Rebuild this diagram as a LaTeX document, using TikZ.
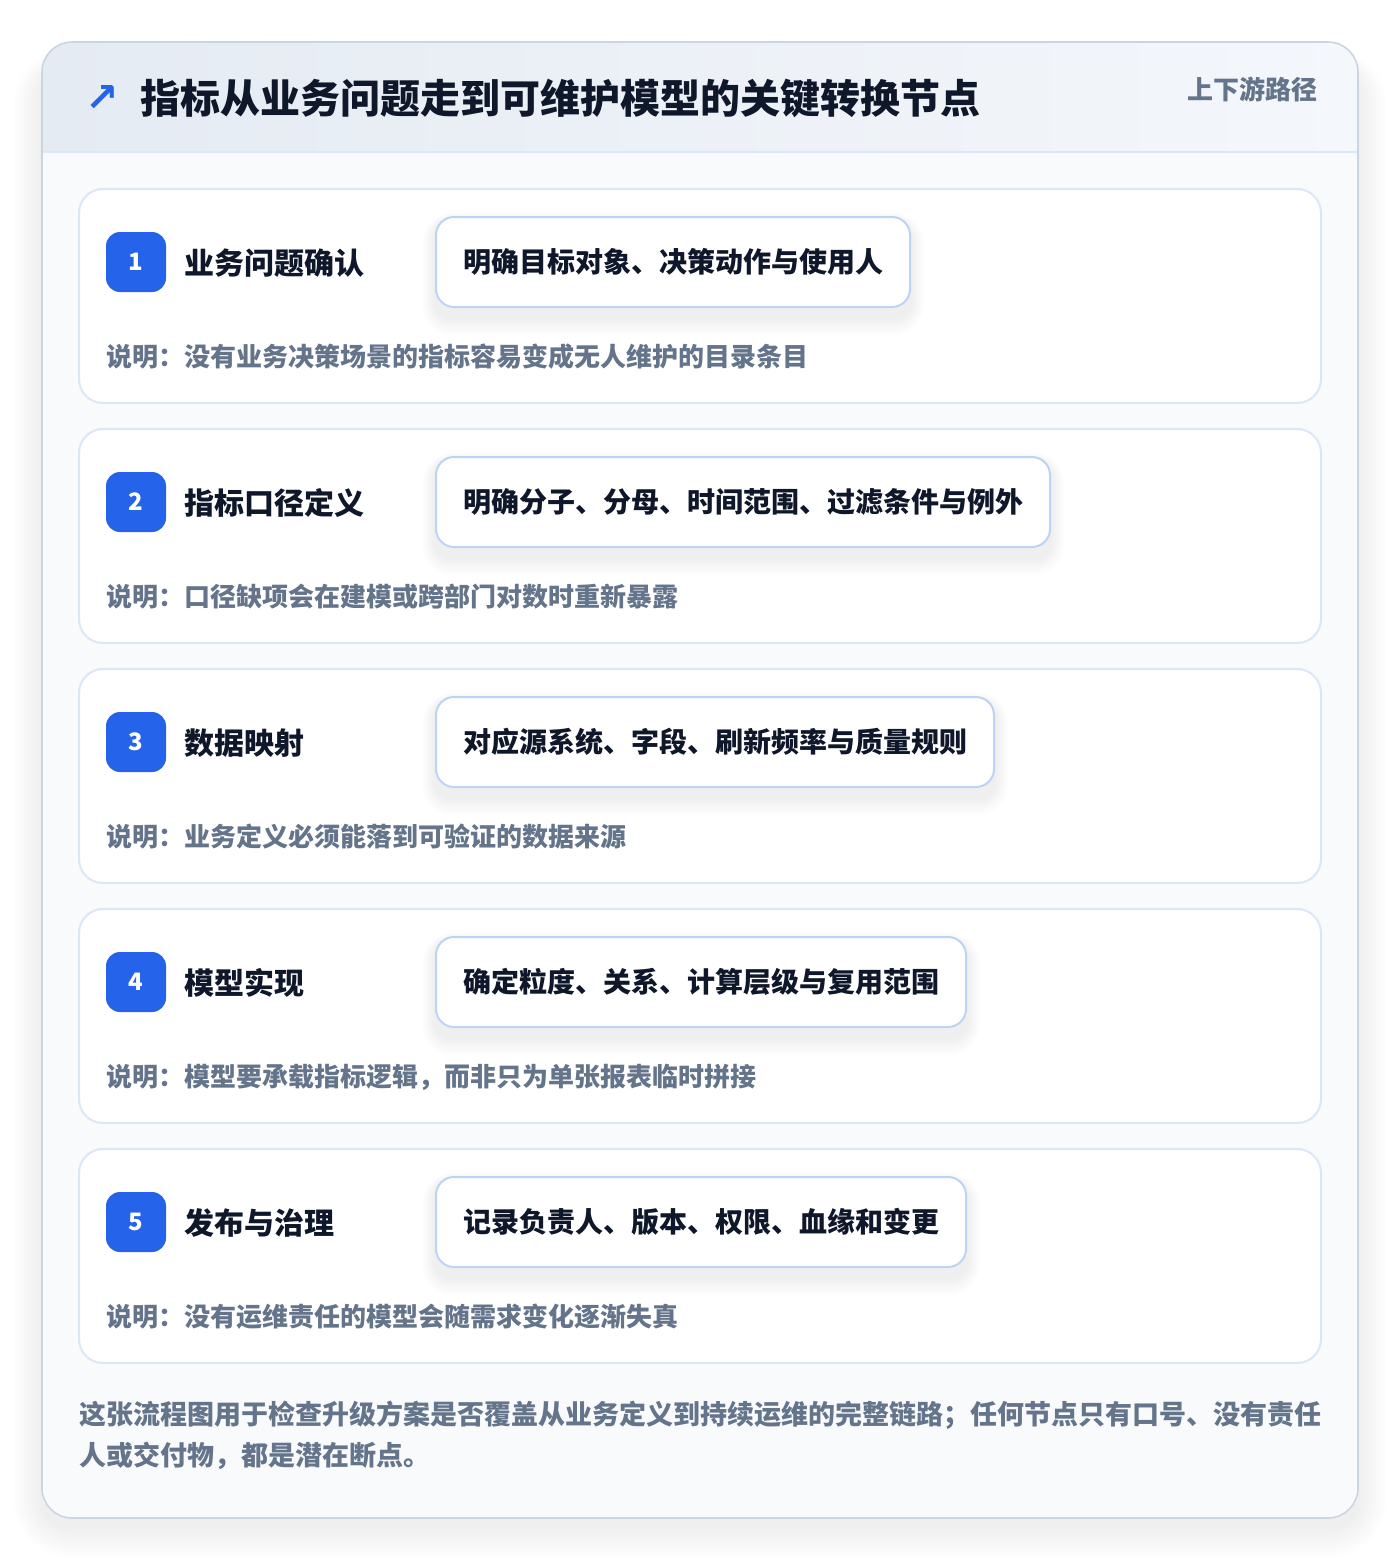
\documentclass[tikz,border=0pt]{standalone}
\usepackage{fontspec}
\setmainfont{Noto Sans CJK SC}
\newfontfamily\dejavu{DejaVu Sans}
\definecolor{inkdark}{HTML}{0F172A}
\definecolor{inkgray}{HTML}{64748B}
\definecolor{accent}{HTML}{2563EB}
\definecolor{cardline}{HTML}{DBE7F6}
\definecolor{pillline}{HTML}{BCD4F4}
\definecolor{outerline}{HTML}{CBD5E1}
\definecolor{hdrL}{HTML}{E5EBF3}
\definecolor{hdrR}{HTML}{F4F7FB}
\definecolor{bodybg}{HTML}{F9FAFC}
\definecolor{hdrsep}{HTML}{DCE7F5}
\pgfdeclarelayer{backdrop}
\pgfdeclarelayer{shadelayer}
\pgfsetlayers{backdrop,shadelayer,main}
\begin{document}
\begin{tikzpicture}[x=0.5pt,y=-0.5pt,
  cardbox/.style={draw=cardline, line width=1pt, fill=white, rounded corners=12pt,
    minimum width=621pt, minimum height=107pt, inner sep=0pt},
  badgebox/.style={fill=accent, text=white, rounded corners=7pt, minimum size=30pt,
    inner sep=0pt, font=\bfseries\fontsize{12}{14}\selectfont},
  labtext/.style={anchor=west, inner sep=0pt, text=inkdark, font=\bfseries\fontsize{15}{18}\selectfont},
  pillbox/.style={anchor=west, draw=pillline, line width=1pt, fill=white, rounded corners=9pt,
    minimum height=45pt, inner xsep=13.5pt, inner ysep=0pt, text=inkdark,
    font=\bfseries\fontsize{14}{17}\selectfont},
  notetext/.style={anchor=west, inner sep=0pt, text=inkgray, font=\bfseries\fontsize{13}{16}\selectfont},
  foottext/.style={anchor=west, inner sep=0pt, text=inkgray, font=\bfseries\fontsize{13.5}{17}\selectfont}
]
\useasboundingbox (0,0) rectangle (1400,1560);
\begin{pgfonlayer}{backdrop}
\fill[white] (0,0) rectangle (1400,1560);
% soft shadow of the outer card
\foreach \k in {1,...,16}{
  \pgfmathsetmacro{\rr}{15+\k*0.9}
  \fill[black, opacity=0.005, rounded corners=\rr pt]
    (42-\k*1.8,66-\k*1.2) rectangle (1358+\k*1.8,1528+\k*1.9);
}
\begin{scope}
  \clip[rounded corners=15pt] (42,42) rectangle (1358,1518);
  \fill[bodybg] (42,152) rectangle (1358,1518);
  \shade[left color=hdrL, right color=hdrR] (42,42) rectangle (1358,152);
  \draw[hdrsep, line width=1pt] (42,152) -- (1358,152);
\end{scope}
\draw[outerline, line width=0.8pt, rounded corners=15pt] (42,42) rectangle (1358,1518);
\end{pgfonlayer}
% header
\node[inner sep=0pt, text=accent, font=\dejavu\bfseries\fontsize{20}{22}\selectfont] (icon) at (102,98) {↗};
\node[anchor=west, inner sep=0pt, text=inkdark, font=\bfseries\fontsize{20}{24}\selectfont] (title) at (140,98) {指标从业务问题走到可维护模型的关键转换节点};
\node[anchor=east, inner sep=0pt, text=inkgray, font=\bfseries\fontsize{13}{16}\selectfont] (tag) at (1318,89) {上下游路径};
% cards
\foreach \i/\lab/\pill/\note in {
  1/业务问题确认/明确目标对象、决策动作与使用人/说明：没有业务决策场景的指标容易变成无人维护的目录条目,
  2/指标口径定义/明确分子、分母、时间范围、过滤条件与例外/说明：口径缺项会在建模或跨部门对数时重新暴露,
  3/数据映射/对应源系统、字段、刷新频率与质量规则/说明：业务定义必须能落到可验证的数据来源,
  4/模型实现/确定粒度、关系、计算层级与复用范围/说明：模型要承载指标逻辑，而非只为单张报表临时拼接,
  5/发布与治理/记录负责人、版本、权限、血缘和变更/说明：没有运维责任的模型会随需求变化逐渐失真}{
  \pgfmathsetmacro{\top}{189+240*(\i-1)}
  \begin{pgfonlayer}{backdrop}
    \node[cardbox] (card\i) at (700,\top+107) {};
  \end{pgfonlayer}
  \node[badgebox] (badge\i) at (136,\top+73) {\i};
  \node[labtext] (lab\i) at (184,\top+74) {\lab};
  \node[pillbox] (pill\i) at (435,\top+73) {\pill};
  \node[notetext] (note\i) at (106,\top+168) {\note};
  \begin{pgfonlayer}{shadelayer}
    \foreach \k in {1,...,8}{
      \pgfmathsetmacro{\rr}{9+\k*0.8}
      \fill[black, opacity=0.006, rounded corners=\rr pt]
        ([xshift=-\k*0.8pt, yshift=\k*0.6pt-3pt]pill\i.north west) rectangle
        ([xshift=\k*0.8pt, yshift=-\k*1.1pt-5pt]pill\i.south east);
    }
  \end{pgfonlayer}
}
% footer
\node[foottext] (foot1) at (79,1415) {这张流程图用于检查升级方案是否覆盖从业务定义到持续运维的完整链路；任何节点只有口号、没有责任};
\node[foottext] (foot2) at (79,1456) {人或交付物，都是潜在断点。};
\end{tikzpicture}
\end{document}
